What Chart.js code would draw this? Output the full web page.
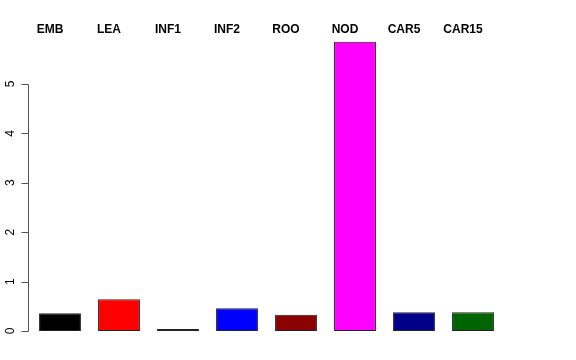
<!DOCTYPE html>
<html>
<head>
<meta charset="utf-8">
<script src="https://cdn.jsdelivr.net/npm/chart.js"></script>
<style>
  html, body { margin: 0; padding: 0; background: #fff; }
  #wrap { width: 576px; height: 360px; }
</style>
</head>
<body>
<div id="wrap"><canvas id="barChart"></canvas></div>
<script>
// Values
const tissues = ['EMB', 'LEA', 'INF1', 'INF2', 'ROO', 'NOD', 'CAR5', 'CAR15'];
const expression = [0.36, 0.64, 0.01, 0.46, 0.33, 5.85, 0.38, 0.38];
const barColors = ['#000000', '#ff0000', '#006400', '#0000ff', '#8b0000', '#ff00ff', '#00008b', '#006400'];
const yTicks = [0, 1, 2, 3, 4, 5];

// R-style left axis: line from first to last tick, short ticks, rotated labels
const rAxis = {
    id: 'rAxis',
    afterDraw(chart) {
        const ctx = chart.ctx;
        const y = chart.scales.y;
        const x0 = 28.5;
        ctx.save();
        ctx.strokeStyle = '#555';
        ctx.lineWidth = 1;
        ctx.beginPath();
        ctx.moveTo(x0, Math.round(y.getPixelForValue(yTicks[0])) + 0.5);
        ctx.lineTo(x0, Math.round(y.getPixelForValue(yTicks[yTicks.length - 1])) + 0.5);
        yTicks.forEach(t => {
            const py = Math.round(y.getPixelForValue(t)) + 0.5;
            ctx.moveTo(x0, py);
            ctx.lineTo(x0 - 7, py);
        });
        ctx.stroke();

        ctx.fillStyle = '#000';
        ctx.font = '12px "Liberation Sans", Arial, sans-serif';
        ctx.textAlign = 'center';
        ctx.textBaseline = 'middle';
        yTicks.forEach(t => {
            ctx.save();
            ctx.translate(11, y.getPixelForValue(t));
            ctx.rotate(-Math.PI / 2);
            ctx.fillText(String(t), 0, 0);
            ctx.restore();
        });
        ctx.restore();
    }
};

new Chart(document.getElementById('barChart').getContext('2d'), {
    type: 'bar',
    data: {
        labels: tissues,
        datasets: [{
            data: expression,
            backgroundColor: barColors,
            borderColor: '#222',
            borderWidth: 1,
            borderSkipped: false,
            minBarLength: 2,
            barPercentage: 0.71,
            categoryPercentage: 1
        }]
    },
    options: {
        responsive: true,
        maintainAspectRatio: false,
        animation: false,
        layout: {
            padding: { left: 30.5, right: 73.5, top: 19, bottom: 29 }
        },
        plugins: {
            legend: { display: false },
            tooltip: { enabled: false }
        },
        scales: {
            x: {
                position: 'top',
                grid: { display: false, drawTicks: false },
                border: { display: false },
                ticks: {
                    color: '#000',
                    padding: 3,
                    font: { family: '"Liberation Sans", Arial, sans-serif', size: 12, weight: 'bold' },
                    labelOffset: ctx => ctx.index === 7 ? -24 : (ctx.index === 6 ? -13 : -10)
                }
            },
            y: {
                display: false,
                min: 0,
                max: 5.9
            }
        }
    },
    plugins: [rAxis]
});
</script>
</body>
</html>
